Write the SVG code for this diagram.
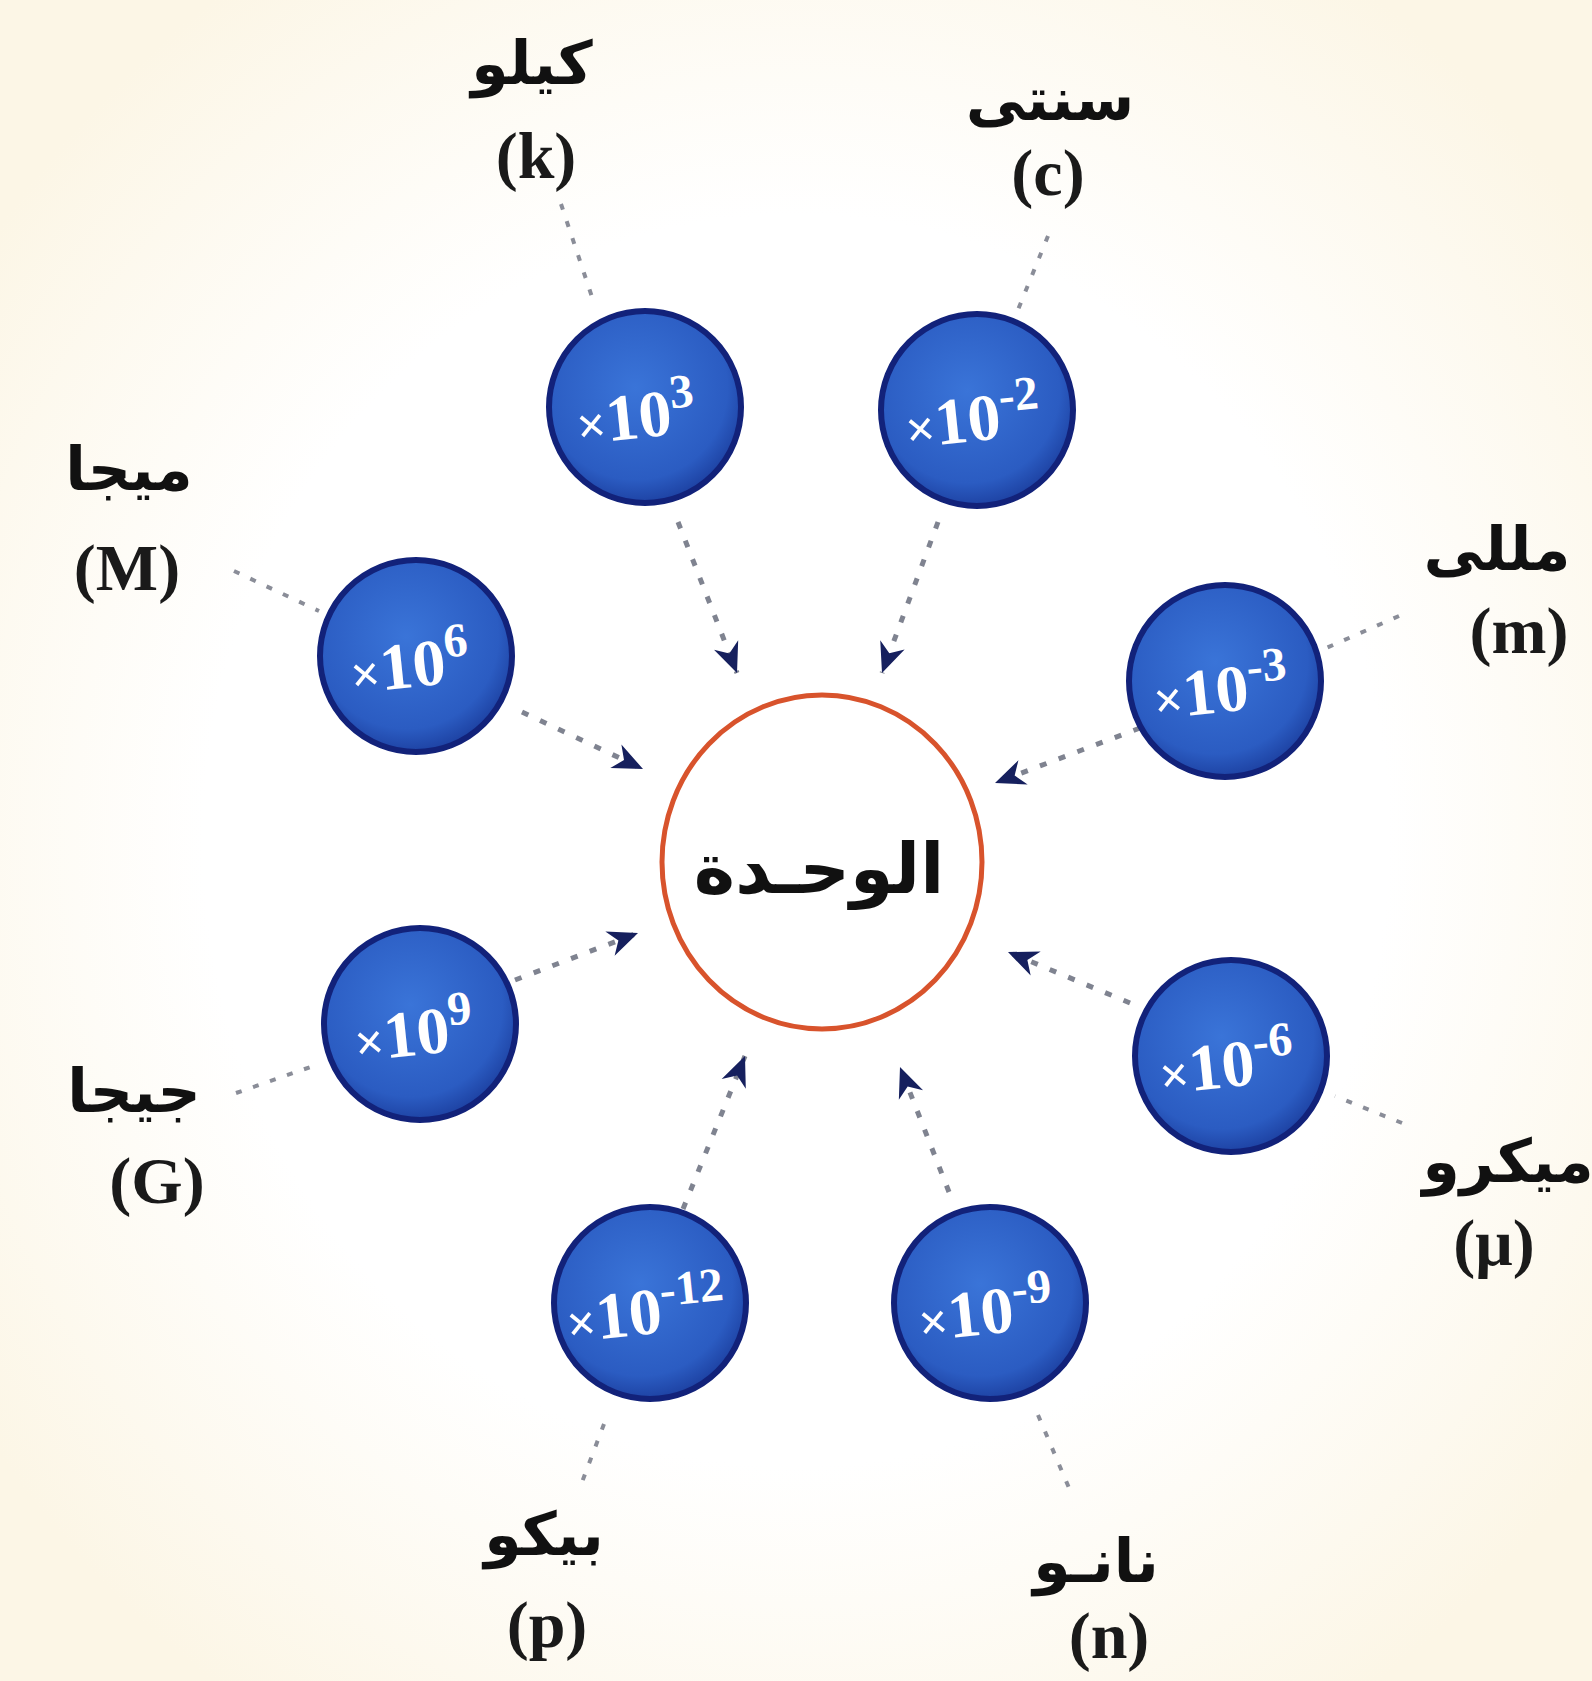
<svg xmlns="http://www.w3.org/2000/svg" width="1592" height="1681" viewBox="0 0 1592 1681">
<defs>
  <radialGradient id="bg" cx="50%" cy="50%" r="62%">
    <stop offset="0.6" stop-color="#ffffff"/>
    <stop offset="1" stop-color="#fcf6e6"/>
  </radialGradient>
  <radialGradient id="ball" cx="45%" cy="40%" r="60%">
    <stop offset="0" stop-color="#3a74d8"/>
    <stop offset="0.8" stop-color="#2b5cc2"/>
    <stop offset="1" stop-color="#1e43a4"/>
  </radialGradient>
  <marker id="arr" viewBox="-32 -15 34 30" refX="0" refY="0" markerWidth="34" markerHeight="30" markerUnits="userSpaceOnUse" orient="auto">
    <path d="M0,0 L-30,-13 L-21,0 L-30,13 Z" fill="#16205e"/>
  </marker>
  <style>
    .node circle { fill: url(#ball); stroke: #12227a; stroke-width: 6; }
    .num { font-family: "Liberation Serif", "Times New Roman", serif; font-weight: bold; fill: #ffffff; }
    .ar { font-family: "DejaVu Sans", sans-serif; font-weight: bold; font-size: 60px; fill: #111111; text-anchor: middle; }
    .lat { font-family: "Liberation Serif", "Times New Roman", serif; font-weight: bold; font-size: 66px; fill: #1a1a1a; text-anchor: middle; }
    .lead { stroke: #8a8d98; stroke-width: 4; stroke-dasharray: 6 12; fill: none; }
    .arrow { stroke: #7f8390; stroke-width: 5; stroke-dasharray: 7 13; fill: none; marker-end: url(#arr); }
  </style>
</defs>
<rect x="0" y="0" width="1592" height="1681" fill="url(#bg)"/>

<g id="connectors">
  <line class="lead" x1="561" y1="204" x2="593" y2="300"/>
  <line class="lead" x1="1048" y1="236" x2="1013" y2="322"/>
  <line class="lead" x1="234" y1="571" x2="319" y2="611"/>
  <line class="lead" x1="1399" y1="616" x2="1324" y2="649"/>
  <line class="lead" x1="236" y1="1093" x2="319" y2="1064"/>
  <line class="lead" x1="1402" y1="1123" x2="1335" y2="1096"/>
  <line class="lead" x1="604" y1="1424" x2="579" y2="1490"/>
  <line class="lead" x1="1038" y1="1415" x2="1072" y2="1495"/>

  <line class="arrow" x1="678" y1="522" x2="737" y2="673"/>
  <line class="arrow" x1="938" y1="522" x2="882" y2="673"/>
  <line class="arrow" x1="522" y1="712" x2="643" y2="769"/>
  <line class="arrow" x1="1140" y1="728" x2="995" y2="783"/>
  <line class="arrow" x1="515" y1="980" x2="638" y2="933"/>
  <line class="arrow" x1="1130" y1="1003" x2="1008" y2="952"/>
  <line class="arrow" x1="683" y1="1209" x2="745" y2="1056"/>
  <line class="arrow" x1="949" y1="1192" x2="900" y2="1067"/>
</g>

<g id="unit">
  <ellipse cx="822" cy="862" rx="160" ry="167" fill="#ffffff" stroke="#d8532c" stroke-width="5"/>
  <text x="819" y="893" class="ar" style="font-size:70px">الوحـدة</text>
</g>

<g id="kilo">
  <g class="node"><circle cx="645" cy="407" r="96"/></g>
  <text class="num" transform="translate(638 438) rotate(-6)" text-anchor="middle"><tspan font-size="52">×</tspan><tspan font-size="66">10</tspan><tspan font-size="48" dy="-26">3</tspan></text>
  <text class="ar" x="532" y="84">كيلو</text>
  <text class="lat" x="536" y="178">(k)</text>
</g>

<g id="centi">
  <g class="node"><circle cx="977" cy="410" r="96"/></g>
  <text class="num" transform="translate(975 441) rotate(-6)" text-anchor="middle"><tspan font-size="52">×</tspan><tspan font-size="66">10</tspan><tspan font-size="48" dy="-26">-2</tspan></text>
  <text class="ar" x="1050" y="120">سنتى</text>
  <text class="lat" x="1048" y="195">(c)</text>
</g>

<g id="mega">
  <g class="node"><circle cx="416" cy="656" r="96"/></g>
  <text class="num" transform="translate(412 687) rotate(-6)" text-anchor="middle"><tspan font-size="52">×</tspan><tspan font-size="66">10</tspan><tspan font-size="48" dy="-26">6</tspan></text>
  <text class="ar" x="129" y="490">ميجا</text>
  <text class="lat" x="127" y="590">(M)</text>
</g>

<g id="milli">
  <g class="node"><circle cx="1225" cy="681" r="96"/></g>
  <text class="num" transform="translate(1223 712) rotate(-6)" text-anchor="middle"><tspan font-size="52">×</tspan><tspan font-size="66">10</tspan><tspan font-size="48" dy="-26">-3</tspan></text>
  <text class="ar" x="1497" y="570">مللى</text>
  <text class="lat" x="1519" y="653">(m)</text>
</g>

<g id="giga">
  <g class="node"><circle cx="420" cy="1024" r="96"/></g>
  <text class="num" transform="translate(416 1055) rotate(-6)" text-anchor="middle"><tspan font-size="52">×</tspan><tspan font-size="66">10</tspan><tspan font-size="48" dy="-26">9</tspan></text>
  <text class="ar" x="134" y="1112">جيجا</text>
  <text class="lat" x="157" y="1203">(G)</text>
</g>

<g id="micro">
  <g class="node"><circle cx="1231" cy="1056" r="96"/></g>
  <text class="num" transform="translate(1229 1087) rotate(-6)" text-anchor="middle"><tspan font-size="52">×</tspan><tspan font-size="66">10</tspan><tspan font-size="48" dy="-26">-6</tspan></text>
  <text class="ar" x="1508" y="1182">ميكرو</text>
  <text class="lat" x="1494" y="1265">(μ)</text>
</g>

<g id="pico">
  <g class="node"><circle cx="650" cy="1303" r="96"/></g>
  <text class="num" transform="translate(648 1334) rotate(-6)" text-anchor="middle"><tspan font-size="52">×</tspan><tspan font-size="66">10</tspan><tspan font-size="48" dy="-26">-12</tspan></text>
  <text class="ar" x="544" y="1555">بيكو</text>
  <text class="lat" x="547" y="1647">(p)</text>
</g>

<g id="nano">
  <g class="node"><circle cx="990" cy="1303" r="96"/></g>
  <text class="num" transform="translate(988 1334) rotate(-6)" text-anchor="middle"><tspan font-size="52">×</tspan><tspan font-size="66">10</tspan><tspan font-size="48" dy="-26">-9</tspan></text>
  <text class="ar" x="1096" y="1582">نانـو</text>
  <text class="lat" x="1109" y="1658">(n)</text>
</g>
</svg>
